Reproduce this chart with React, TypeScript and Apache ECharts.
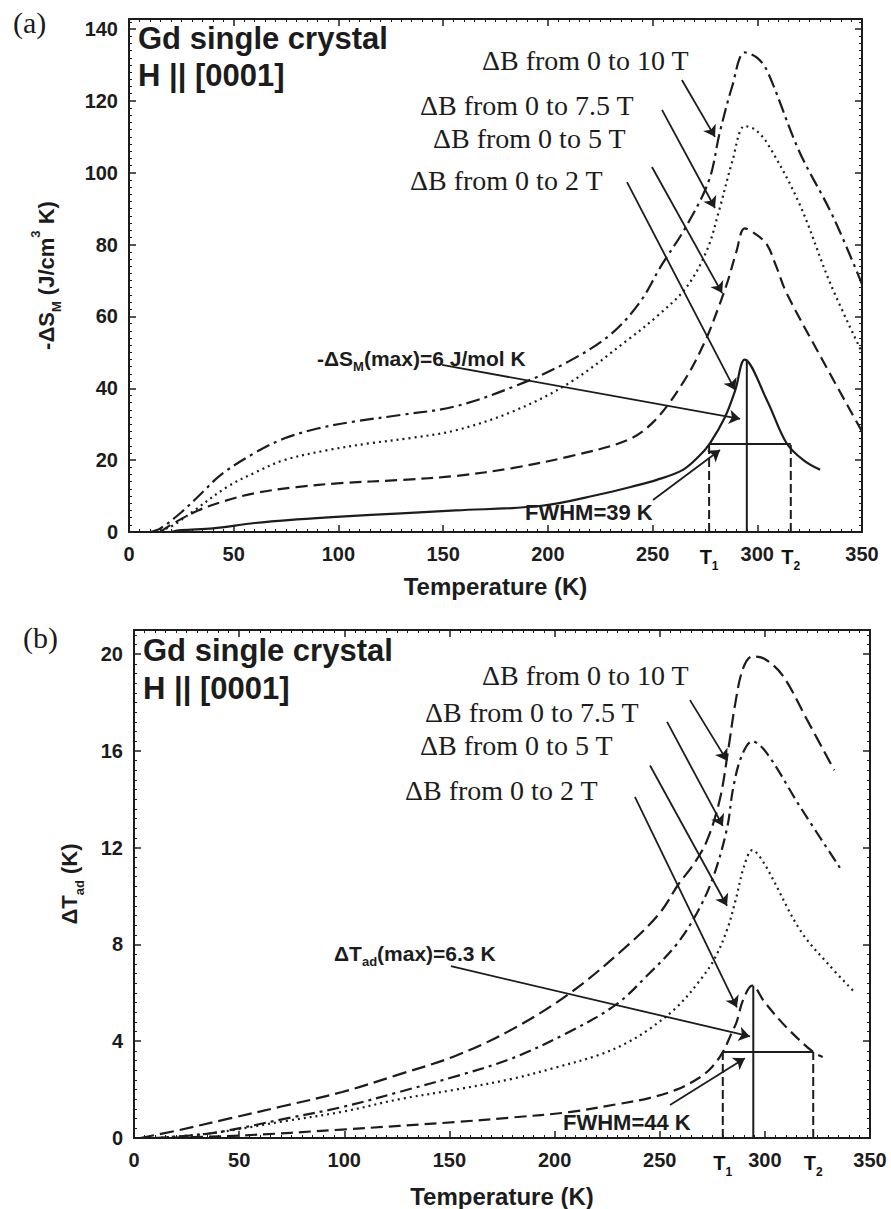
import React, { useEffect, useRef } from "react";
import * as echarts from "echarts";

// ---------- Panel (a): -ΔS_M vs Temperature ----------
const xTicks = [0, 50, 100, 150, 200, 250, 300, 350];
const yTicksA = [0, 20, 40, 60, 80, 100, 120, 140];
const yTicksB = [0, 4, 8, 12, 16, 20];

const a10 = [[10,0],[15,1],[25,5.5],[35,11],[44,16],[60,22],[74,26],[90,28.8],[107,30.7],[130,32.6],[156,35],[186,41],[210,47.5],[230,55],[244,64],[254,74],[266,85],[277,98],[282,111],[288,124],[294,133.5],[300,132],[305,128],[320,106],[336,88],[350,69]];
const a75 = [[12,0],[20,1.5],[30,5.5],[47,12.6],[60,16.5],[74,20],[95,22.8],[115,24.7],[135,26.2],[156,28.3],[183,33.5],[210,41.4],[238,53.4],[252,60],[266,68],[276,78.5],[282,90],[288,103],[294,113],[299,112],[305,108],[320,91.5],[335,69],[350,50]];
const a5 = [[15,0],[20,2],[33,6],[45,8.5],[60,10.8],[80,12.5],[101,13.6],[130,14.5],[156,15.6],[183,17.8],[210,21],[238,25.6],[251,31],[265,42],[275,53],[281.6,62.7],[286,70],[290,78],[294,84.5],[299,83],[304.6,80],[309,74],[314,66.5],[331,48],[350,28]];
const a2 = [[20,0],[25,0.5],[40,1],[60,2.5],[80,3.5],[101,4.3],[130,5.2],[156,6],[197,7.3],[225,10.5],[240,12.6],[252,14.5],[264.5,17.3],[272,21],[277.4,24.7],[284.6,32],[289.5,39.5],[294,48],[304.6,36.7],[314,24.7],[322,20],[330,17.3]];

const fwhmA_T = [277, 316]; // T1, T2
const fwhmA_half = 24.5;
const peakA = [295, 48];
const arrowsA = [
  [[264, 125.8], [279.8, 110]],
  [[254.5, 117.5], [279.8, 90.2]],
  [[249.7, 101.6], [283.2, 66.5]],
  [[237.8, 97.4], [289.4, 39.5]],
  [[149.5, 46.5], [291.8, 31.5]],
  [[250.2, 8.9], [282.2, 22.8]],
];

// ---------- Panel (b): ΔT_ad vs Temperature ----------
const b10 = [[3,0],[20,0.3],[45,0.8],[70,1.3],[99,1.9],[125,2.6],[153,3.4],[180,4.5],[207.5,6],[234.6,7.95],[250,9.3],[259,10.5],[266,11.3],[272.5,12.3],[278.6,14],[282.5,16],[286,18],[289.6,19.4],[294,19.9],[300,19.8],[308.6,19.1],[320,17.3],[333,15.2]];
const b75 = [[10,0],[37,0.2],[72,0.8],[100,1.3],[126,1.9],[155,2.6],[180,3.3],[205,4.3],[229,5.5],[245,6.8],[258,8.0],[267.7,9.3],[275.5,10.8],[282,12.8],[285,14.5],[289,15.8],[294,16.4],[301,15.9],[316.7,13.7],[337,11]];
const b5 = [[10,0],[37,0.2],[72,0.7],[100,1.1],[126,1.6],[153,2],[180,2.45],[200,2.9],[221.6,3.45],[234.7,3.95],[245,4.5],[258,5.4],[269,6.5],[276,7.4],[282,8.6],[286,9.8],[290,11.2],[294,11.9],[300,11.3],[316.7,8.6],[330,7.2],[343,6.0]];
const b2 = [[10,0],[50,0.1],[99,0.35],[153,0.66],[180,0.85],[207,1.07],[230,1.4],[245,1.65],[258,2.0],[269,2.5],[275,2.95],[280,3.55],[284,4.3],[286.6,4.8],[289.6,5.7],[294,6.3],[300,5.6],[310,4.6],[323,3.55],[327.5,3.35]];

const fwhmB_T = [280, 323];
const fwhmB_half = 3.55;
const peakB = [294.5, 6.3];
const arrowsB = [
  [[264.4, 18.1], [282, 15.6]],
  [[253.5, 17.2], [280, 12.9]],
  [[245.4, 15.4], [282, 9.6]],
  [[238.2, 14.1], [286.7, 5.4]],
  [[150.7, 7.1], [292.9, 4.2]],
  [[254.9, 1.36], [290.5, 3.3]],
];

const fieldLabels = ["ΔB from 0 to 10 T", "ΔB from 0 to 7.5 T", "ΔB from 0 to 5 T", "ΔB from 0 to 2 T"];

const INK = "#1c1c1c";
const SANS = '"Liberation Sans", Arial, sans-serif';
const SERIF = '"Liberation Serif", "Times New Roman", serif';

function xAxes(grid: number, nameGap: number) {
  const base = {
    type: "value", gridIndex: grid, min: 0, max: 350, interval: 50,
    splitLine: { show: false },
    axisLine: { show: true, onZero: false, lineStyle: { color: INK, width: 2 } },
    axisTick: { show: true, inside: true, length: 7, lineStyle: { color: INK, width: 1.5 } },
    minorTick: { show: true, splitNumber: 10, length: 3, lineStyle: { color: INK, width: 1 } },
  };
  return [
    {
      ...base, position: "bottom",
      name: "Temperature (K)", nameLocation: "middle", nameGap,
      nameTextStyle: { fontSize: 24, fontWeight: "bold", color: INK, fontFamily: SANS },
      axisLabel: {
        show: true, margin: 12, fontSize: 20, fontWeight: "bold", color: INK, fontFamily: SANS,
        formatter: (v: number) => (xTicks.includes(v) ? String(v) : ""),
      },
    },
    { ...base, position: "top", axisLabel: { show: false } },
  ];
}

function yAxes(grid: number, max: number, interval: number, ticks: number[], name: string, nameGap: number, rich: any) {
  const base = {
    type: "value", gridIndex: grid, min: 0, max, interval,
    splitLine: { show: false },
    axisLine: { show: true, onZero: false, lineStyle: { color: INK, width: 2 } },
    axisTick: { show: true, inside: true, length: 7, lineStyle: { color: INK, width: 1.5 } },
    minorTick: { show: true, splitNumber: 10, length: 3, lineStyle: { color: INK, width: 1 } },
  };
  return [
    {
      ...base, position: "left",
      name, nameLocation: "middle", nameGap, nameRotate: 90,
      nameTextStyle: { fontSize: 22, fontWeight: "bold", color: INK, fontFamily: SANS, lineHeight: 28, rich },
      axisLabel: {
        show: true, margin: 11, fontSize: 20, fontWeight: "bold", color: INK, fontFamily: SANS,
        formatter: (v: number) => (ticks.includes(v) ? String(v) : ""),
      },
    },
    { ...base, position: "right", axisLabel: { show: false } },
  ];
}

function curve(data: number[][], xi: number, yi: number, type: any) {
  return {
    type: "line", data, xAxisIndex: xi, yAxisIndex: yi,
    showSymbol: false, symbol: "none", smooth: 0.35,
    lineStyle: { color: INK, width: 2.2, type }, silent: true,
  };
}

function seg(data: number[][], xi: number, yi: number, type: any, width = 2) {
  return {
    type: "line", data, xAxisIndex: xi, yAxisIndex: yi,
    showSymbol: false, symbol: "none", smooth: false,
    lineStyle: { color: INK, width, type }, silent: true,
  };
}

function arrows(list: number[][][], xi: number, yi: number) {
  return {
    type: "lines", coordinateSystem: "cartesian2d", xAxisIndex: xi, yAxisIndex: yi,
    data: list.map((c) => ({ coords: c })),
    symbol: ["none", "arrow"], symbolSize: 11,
    lineStyle: { color: INK, width: 1.8, opacity: 1, curveness: 0 }, silent: true,
  };
}

function tLabels(ts: number[], xi: number, yi: number) {
  return {
    type: "scatter", xAxisIndex: xi, yAxisIndex: yi, symbolSize: 0.1,
    itemStyle: { color: INK, opacity: 1 },
    data: ts.map((t, i) => ({ value: [t, 0], label: { formatter: i === 0 ? "T{s|1}" : "T{s|2}" } })),
    label: {
      show: true, position: "bottom", distance: 10, opacity: 1,
      fontSize: 20, fontWeight: "bold", color: "#111", fontFamily: SANS, lineHeight: 24,
      rich: { s: { fontSize: 12, fontWeight: "bold", color: "#111", fontFamily: SANS, verticalAlign: "bottom", lineHeight: 30 } },
    },
    silent: true,
  };
}

function txt(x: number, y: number, text: string, font: string, rich?: any) {
  return {
    type: "text", x, y, silent: true,
    style: {
      text, font, fill: INK, textAlign: "left", textVerticalAlign: "middle",
      align: "left", verticalAlign: "middle", rich,
    },
  };
}

const subRich = {
  sub: { fontSize: 13, fontWeight: "bold", fontFamily: SANS, fill: INK, color: INK, verticalAlign: "bottom", lineHeight: 30 },
};

export default function App() {
  const ref = useRef<HTMLDivElement>(null);
  useEffect(() => {
    const chart = echarts.init(ref.current!, null, { renderer: "svg" });
    const nameRich = {
      sub: { fontSize: 13, fontWeight: "bold", color: INK, fontFamily: SANS, verticalAlign: "bottom", lineHeight: 34 },
      sup: { fontSize: 13, fontWeight: "bold", color: INK, fontFamily: SANS, verticalAlign: "top", lineHeight: 20 },
    };
    const option: any = {
      animation: false,
      backgroundColor: "#ffffff",
      grid: [
        { left: 129, top: 19, width: 733, height: 513 },
        { left: 134, top: 630, width: 736, height: 510 },
      ],
      xAxis: [...xAxes(0, 42), ...xAxes(1, 46)],
      yAxis: [
        ...yAxes(0, 142.8, 20, yTicksA, "-ΔS{sub|M} (J/cm{sup|3} K)", 66, nameRich),
        ...yAxes(1, 21, 4, yTicksB, "ΔT{sub|ad} (K)", 48, nameRich),
      ],
      series: [
        curve(a10, 0, 0, [14, 5, 3, 5]),
        curve(a75, 0, 0, [2, 4]),
        curve(a5, 0, 0, [12, 6]),
        curve(a2, 0, 0, "solid"),
        seg([[fwhmA_T[0], 0], [fwhmA_T[0], fwhmA_half]], 0, 0, [9, 4]),
        seg([[fwhmA_T[1], 0], [fwhmA_T[1], fwhmA_half]], 0, 0, [9, 4]),
        seg([[fwhmA_T[0], fwhmA_half], [fwhmA_T[1], fwhmA_half]], 0, 0, "solid"),
        seg([[peakA[0], 0], [peakA[0], peakA[1]]], 0, 0, "solid"),
        arrows(arrowsA, 0, 0),
        tLabels(fwhmA_T, 0, 0),

        curve(b10, 2, 2, [14, 6]),
        curve(b75, 2, 2, [12, 5, 3, 5]),
        curve(b5, 2, 2, [2, 4]),
        curve(b2, 2, 2, [12, 6]),
        seg([[fwhmB_T[0], 0], [fwhmB_T[0], fwhmB_half]], 2, 2, [9, 4]),
        seg([[fwhmB_T[1], 0], [fwhmB_T[1], fwhmB_half]], 2, 2, [9, 4]),
        seg([[fwhmB_T[0], fwhmB_half], [fwhmB_T[1], fwhmB_half]], 2, 2, "solid"),
        seg([[peakB[0], 0], [peakB[0], peakB[1]]], 2, 2, "solid"),
        arrows(arrowsB, 2, 2),
        tLabels(fwhmB_T, 2, 2),
      ],
      graphic: [
        txt(13, 22, "(a)", `30px ${SERIF}`),
        txt(138, 38, "Gd single crystal", `bold 31px ${SANS}`),
        txt(138, 75, "H || [0001]", `bold 31px ${SANS}`),
        txt(482, 60, fieldLabels[0], `28px ${SERIF}`),
        txt(420, 105, fieldLabels[1], `28px ${SERIF}`),
        txt(433, 138, fieldLabels[2], `28px ${SERIF}`),
        txt(410, 180, fieldLabels[3], `28px ${SERIF}`),
        txt(317, 358, "-ΔS{sub|M}(max)=6 J/mol K", `bold 21px ${SANS}`, subRich),
        txt(525, 512, "FWHM=39 K", `bold 22px ${SANS}`),

        txt(23, 637, "(b)", `30px ${SERIF}`),
        txt(143, 650, "Gd single crystal", `bold 31px ${SANS}`),
        txt(143, 688, "H || [0001]", `bold 31px ${SANS}`),
        txt(482, 675, fieldLabels[0], `28px ${SERIF}`),
        txt(425, 712, fieldLabels[1], `28px ${SERIF}`),
        txt(420, 745, fieldLabels[2], `28px ${SERIF}`),
        txt(405, 790, fieldLabels[3], `28px ${SERIF}`),
        txt(334, 953, "ΔT{sub|ad}(max)=6.3 K", `bold 21px ${SANS}`, subRich),
        txt(563, 1122, "FWHM=44 K", `bold 22px ${SANS}`),
      ],
    };
    chart.setOption(option);
    return () => chart.dispose();
  }, []);
  return (
    <div
      ref={ref}
      style={{ position: "absolute", left: 0, top: 0, width: 891, height: 1209, background: "#fff" }}
    />
  );
}
